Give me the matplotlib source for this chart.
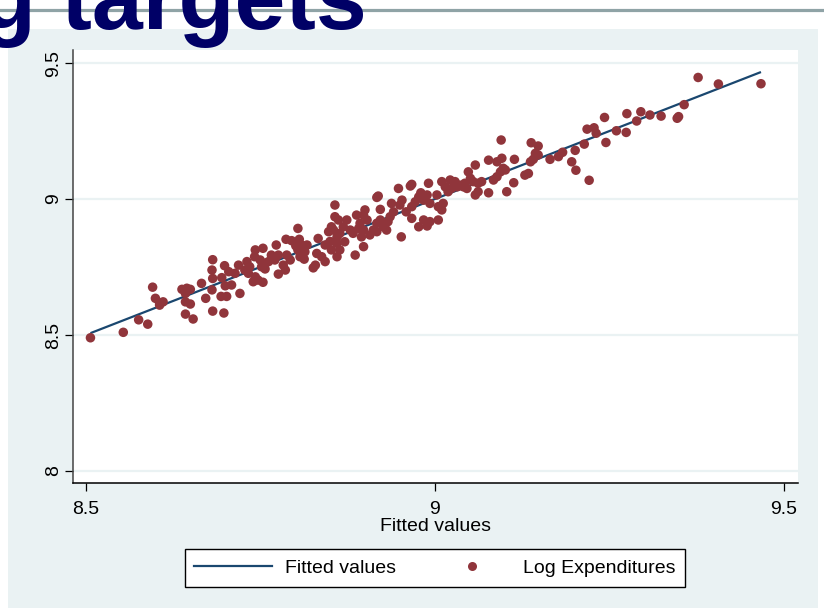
#!/usr/bin/env python

import matplotlib
matplotlib.use('Agg')
import matplotlib.pyplot as plt
from matplotlib.patches import Rectangle
from matplotlib.lines import Line2D

plt.rcParams['font.family'] = ['Liberation Sans', 'DejaVu Sans']

fitted = [
    8.507, 8.554, 8.576, 8.589, 8.596, 8.600, 8.606, 8.611, 8.606, 8.638,
    8.645, 8.650, 8.643, 8.643, 8.650, 8.643, 8.654, 8.666, 8.672, 8.682,
    8.681, 8.682, 8.681, 8.682, 8.699, 8.695, 8.700, 8.694, 8.702, 8.698,
    8.705,
    8.857, 8.804, 8.787, 8.795, 8.806, 8.801, 8.809, 8.804, 8.817, 8.814,
    8.813, 8.807, 8.773, 8.754, 8.743, 8.742, 8.750, 8.757, 8.752, 8.766,
    8.776, 8.771, 8.762, 8.788, 8.793, 8.783, 8.786, 8.776, 8.757, 8.731,
    8.735, 8.728, 8.733, 8.743, 8.747, 8.754, 8.740, 8.719, 8.714, 8.721,
    8.709, 8.833, 8.843, 8.831, 8.838, 8.829, 8.826, 8.848, 8.852, 8.850,
    8.852, 8.843,
    8.991, 8.967, 8.965, 8.948, 8.919, 8.917, 8.980, 8.977, 8.984, 8.972,
    8.967, 8.989, 8.993, 9.003, 8.953, 8.950, 8.938, 8.941, 8.936, 8.933,
    8.959, 8.967, 8.977, 8.989, 8.984, 8.993, 9.005, 8.922, 8.922, 8.917,
    8.926, 8.912, 8.907, 8.917, 8.931, 8.952, 8.900, 8.898, 8.888, 8.903,
    8.893, 8.891, 8.898, 8.895, 8.883, 8.879, 8.874, 8.869, 8.864, 8.860,
    8.855, 8.857, 8.862, 8.871, 8.860, 8.864, 8.886, 8.898, 8.860,
    9.095, 9.138, 9.148, 9.077, 9.089, 9.096, 9.114, 9.144, 9.148, 9.141,
    9.137, 9.134, 9.129, 9.165, 9.177, 9.058, 9.048, 9.051, 9.055, 9.043,
    9.098, 9.094, 9.101, 9.089, 9.084, 9.113, 9.067, 9.062, 9.077, 9.062,
    9.058, 9.103, 9.010, 9.022, 9.029, 9.032, 9.024, 9.019, 9.036, 9.041,
    9.046, 9.015, 9.012, 9.010, 9.005,
    9.377, 9.406, 9.467, 9.357, 9.347, 9.349, 9.324, 9.308, 9.295, 9.289,
    9.275, 9.274, 9.260, 9.243, 9.245, 9.228, 9.218, 9.231, 9.214, 9.201,
    9.183, 9.196, 9.202, 9.221,
]
log_exp = [
    8.490, 8.510, 8.556, 8.540, 8.676, 8.635, 8.617, 8.622, 8.610, 8.668,
    8.672, 8.668, 8.653, 8.622, 8.614, 8.577, 8.559, 8.690, 8.635, 8.777,
    8.739, 8.708, 8.666, 8.588, 8.755, 8.711, 8.681, 8.642, 8.642, 8.581,
    8.733,
    8.978, 8.892, 8.852, 8.847, 8.852, 8.828, 8.831, 8.813, 8.831, 8.806,
    8.779, 8.788, 8.831, 8.819, 8.813, 8.788, 8.776, 8.764, 8.751, 8.794,
    8.794, 8.776, 8.770, 8.794, 8.776, 8.757, 8.739, 8.724, 8.743, 8.770,
    8.751, 8.739, 8.727, 8.714, 8.702, 8.694, 8.696, 8.757, 8.727, 8.653,
    8.684, 8.855, 8.831, 8.800, 8.788, 8.757, 8.747, 8.880, 8.898, 8.844,
    8.813, 8.770,
    9.058, 9.054, 9.048, 9.039, 9.011, 9.006, 9.023, 9.008, 8.996, 8.990,
    8.972, 9.015, 8.984, 9.015, 8.996, 8.978, 8.984, 8.953, 8.935, 8.917,
    8.953, 8.929, 8.898, 8.901, 8.923, 8.917, 8.923, 8.962, 8.923, 8.911,
    8.898, 8.886, 8.868, 8.880, 8.886, 8.861, 8.960, 8.941, 8.941, 8.923,
    8.911, 8.892, 8.886, 8.861, 8.874, 8.886, 8.923, 8.898, 8.874, 8.861,
    8.886, 8.935, 8.923, 8.843, 8.837, 8.813, 8.794, 8.825, 8.788,
    9.217, 9.207, 9.195, 9.143, 9.137, 9.150, 9.146, 9.168, 9.162, 9.146,
    9.137, 9.094, 9.088, 9.146, 9.156, 9.125, 9.100, 9.076, 9.064, 9.058,
    9.113, 9.100, 9.107, 9.082, 9.070, 9.060, 9.064, 9.058, 9.023, 9.027,
    9.015, 9.027, 9.064, 9.070, 9.064, 9.045, 9.039, 9.027, 9.051, 9.045,
    9.039, 9.045, 8.984, 8.960, 8.972,
    9.447, 9.423, 9.424, 9.347, 9.297, 9.303, 9.305, 9.309, 9.321, 9.287,
    9.314, 9.245, 9.251, 9.300, 9.208, 9.262, 9.257, 9.242, 9.202, 9.179,
    9.172, 9.137, 9.106, 9.069,
]

x_ticks = [8.5, 9, 9.5]
x_tick_labels = ['8.5', '9', '9.5']
y_ticks = [8, 8.5, 9, 9.5]
y_tick_labels = ['8', '8.5', '9', '9.5']

title_text = 'g targets'
x_title = 'Fitted values'
legend_labels = ['Fitted values', 'Log Expenditures']

NAVY = '#1a476f'
MAROON = '#90353b'
REGION = '#eaf2f3'


def main():
    W, H = 824, 608
    fig = plt.figure(figsize=(W / 100, H / 100), dpi=100)
    fig.patch.set_facecolor('white')

    # slide decoration: grey rule and the cut-off title
    fig.add_artist(Line2D([0, 1], [1 - 9.5 / H] * 2, transform=fig.transFigure,
                          color='#8fa3a6', lw=2.3, zorder=0))
    fig.text(-20 / W, 1 - 29 / H, title_text, fontsize=66, fontweight='bold',
             color='#000066', va='baseline', ha='left', zorder=1)

    # graph region (light blue-grey)
    fig.add_artist(Rectangle((8 / W, 0), 810 / W, 1 - 29 / H,
                             transform=fig.transFigure, facecolor=REGION,
                             edgecolor='none', zorder=0.5))

    ax = fig.add_axes([73 / W, 1 - 483 / H, 725 / W, 433 / H])
    ax.set_zorder(2)
    ax.set_facecolor('white')

    lo, hi = min(fitted), max(fitted)
    ax.plot([lo, hi], [lo, hi], color=NAVY, lw=1.6, zorder=3,
            solid_capstyle='butt')
    ax.scatter(fitted, log_exp, s=47, color=MAROON, edgecolors='none',
               zorder=4)

    ax.set_xlim(8.482, 9.52)
    ax.set_ylim(7.956, 9.548)
    ax.set_xticks(x_ticks)
    ax.set_xticklabels(x_tick_labels)
    ax.set_yticks(y_ticks)
    ax.set_yticklabels(y_tick_labels, rotation=90, va='center')
    for y in y_ticks:
        ax.axhline(y, color=REGION, lw=1.6, zorder=1)

    for s in ['top', 'right']:
        ax.spines[s].set_visible(False)
    ax.spines['left'].set_color('#444444')
    ax.spines['left'].set_linewidth(1.1)
    ax.spines['bottom'].set_color('black')
    ax.spines['bottom'].set_linewidth(1.1)
    ax.tick_params(axis='both', direction='out', length=6, width=0.9,
                   labelsize=14, colors='black')
    ax.tick_params(axis='x', pad=7)
    ax.tick_params(axis='y', pad=2)

    ax.set_xlabel(x_title, fontsize=14, labelpad=0)

    handles = [
        Line2D([], [], color=NAVY, lw=1.6),
        Line2D([], [], color=MAROON, marker='o', ls='none', markersize=6.5,
               markeredgewidth=0),
    ]
    leg = fig.legend(handles, legend_labels, loc='center',
                     bbox_to_anchor=(435 / W, 1 - 568 / H), ncol=2,
                     fontsize=14, handlelength=4.0, handletextpad=0.65,
                     columnspacing=1.9, borderpad=0.5, fancybox=False,
                     framealpha=1, edgecolor='black')
    leg.get_frame().set_linewidth(1.0)
    leg.set_zorder(5)

    fig.savefig('out.png', dpi=100)
    print("Saved as 'out.png'")


if __name__ == '__main__':
    main()
